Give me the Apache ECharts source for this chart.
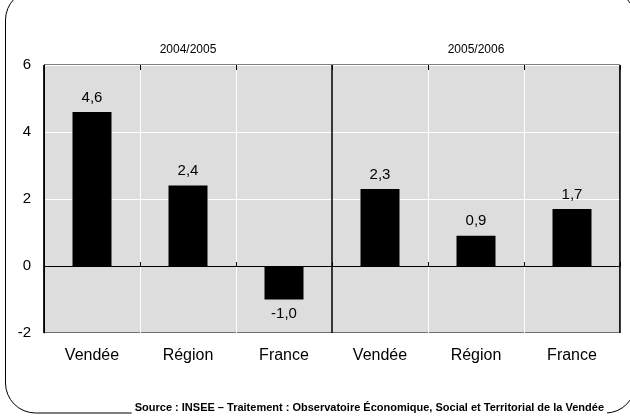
<!DOCTYPE html>
<html>
<head>
<meta charset="utf-8">
<script src="https://cdn.jsdelivr.net/npm/echarts@6/dist/echarts.min.js"></script>
<style>
  html, body { margin: 0; padding: 0; background: #fff; }
  #chart { width: 630px; height: 416px; }
</style>
</head>
<body>
<div id="chart"></div>
<script>
// Employment change by area, two periods side by side (in %)
const categories = ['Vendée', 'Région', 'France', 'Vendée', 'Région', 'France'];
const periods = ['2004/2005', '2005/2006'];
const values = [4.6, 2.4, -1.0, 2.3, 0.9, 1.7];
const yTicks = { min: -2, max: 6, step: 2 };
const sourceText = 'Source : INSEE – Traitement : Observatoire Économique, Social et Territorial de la Vendée';

const FONT = '"Liberation Sans", Arial, sans-serif';
const fmt = v => v.toFixed(1).replace('.', ',');

const chart = echarts.init(document.getElementById('chart'), null, { renderer: 'canvas' });

const barData = values.map(v => ({
  value: v,
  label: { position: v < 0 ? 'bottom' : 'top' }
}));

chart.setOption({
  animation: false,
  backgroundColor: '#fff',
  grid: {
    left: 44, right: 10, top: 65, bottom: 83,
    show: true, backgroundColor: '#dddddd', borderColor: '#000', borderWidth: 1
  },
  xAxis: [
    { // category names along the bottom, white separators
      type: 'category', data: categories, position: 'bottom',
      axisLine: { show: false, onZero: false }, axisTick: { show: false },
      axisLabel: { fontFamily: FONT, fontSize: 16, color: '#000', margin: 15 },
      splitLine: {
        show: true,
        interval: (i) => i !== 0 && i !== 3,
        lineStyle: { color: '#ffffff', width: 1 }
      }
    },
    { // zero line with ticks below
      type: 'category', data: categories,
      axisLine: { show: true, onZero: true, lineStyle: { color: '#000', width: 1 } },
      axisTick: { show: true, length: 4, lineStyle: { color: '#000' } },
      axisLabel: { show: false }, splitLine: { show: false }
    },
    { // ticks above the zero line
      type: 'category', data: categories,
      axisLine: { show: false, onZero: true },
      axisTick: { show: true, inside: true, length: 5, lineStyle: { color: '#000' } },
      axisLabel: { show: false }, splitLine: { show: false }
    },
    { // period headers
      type: 'category', data: periods, position: 'top',
      axisLine: { show: false, onZero: false }, axisTick: { show: false },
      axisLabel: { fontFamily: FONT, fontSize: 12, color: '#000', margin: 9 },
      splitLine: { show: false }
    },
    { // divider between the two periods (half-way along six slots)
      type: 'value', min: 0, max: 6, interval: 3, position: 'top',
      axisLine: { show: false, onZero: false }, axisTick: { show: false },
      axisLabel: { show: false },
      splitLine: { show: true, lineStyle: { color: '#000', width: 1.5 } }
    }
  ],
  yAxis: {
    type: 'value', min: yTicks.min, max: yTicks.max, interval: yTicks.step,
    axisLine: { show: true, onZero: false, lineStyle: { color: '#000' } },
    axisTick: { show: false },
    axisLabel: { fontFamily: FONT, fontSize: 15, color: '#000', margin: 13 },
    splitLine: { show: true, lineStyle: { color: '#ffffff', width: 1 } }
  },
  series: [{
    type: 'bar', xAxisIndex: 0, data: barData, barWidth: 39,
    itemStyle: { color: '#000' },
    label: {
      show: true, distance: 7, fontFamily: FONT, fontSize: 15, color: '#000',
      formatter: p => fmt(p.value)
    },
    z: 3
  }],
  graphic: [
    { // rounded outer frame
      type: 'rect', silent: true, z: 100,
      shape: { x: 5.5, y: -10, width: 630, height: 423, r: 30 },
      style: { fill: 'none', stroke: '#000', lineWidth: 1 }
    },
    {
      type: 'text', silent: true, z: 101,
      style: {
        text: sourceText, x: 607, y: 408, align: 'right', verticalAlign: 'middle',
        font: 'bold 11px ' + FONT, fill: '#000',
        backgroundColor: '#fff', padding: [2, 3]
      }
    }
  ]
});
</script>
</body>
</html>
